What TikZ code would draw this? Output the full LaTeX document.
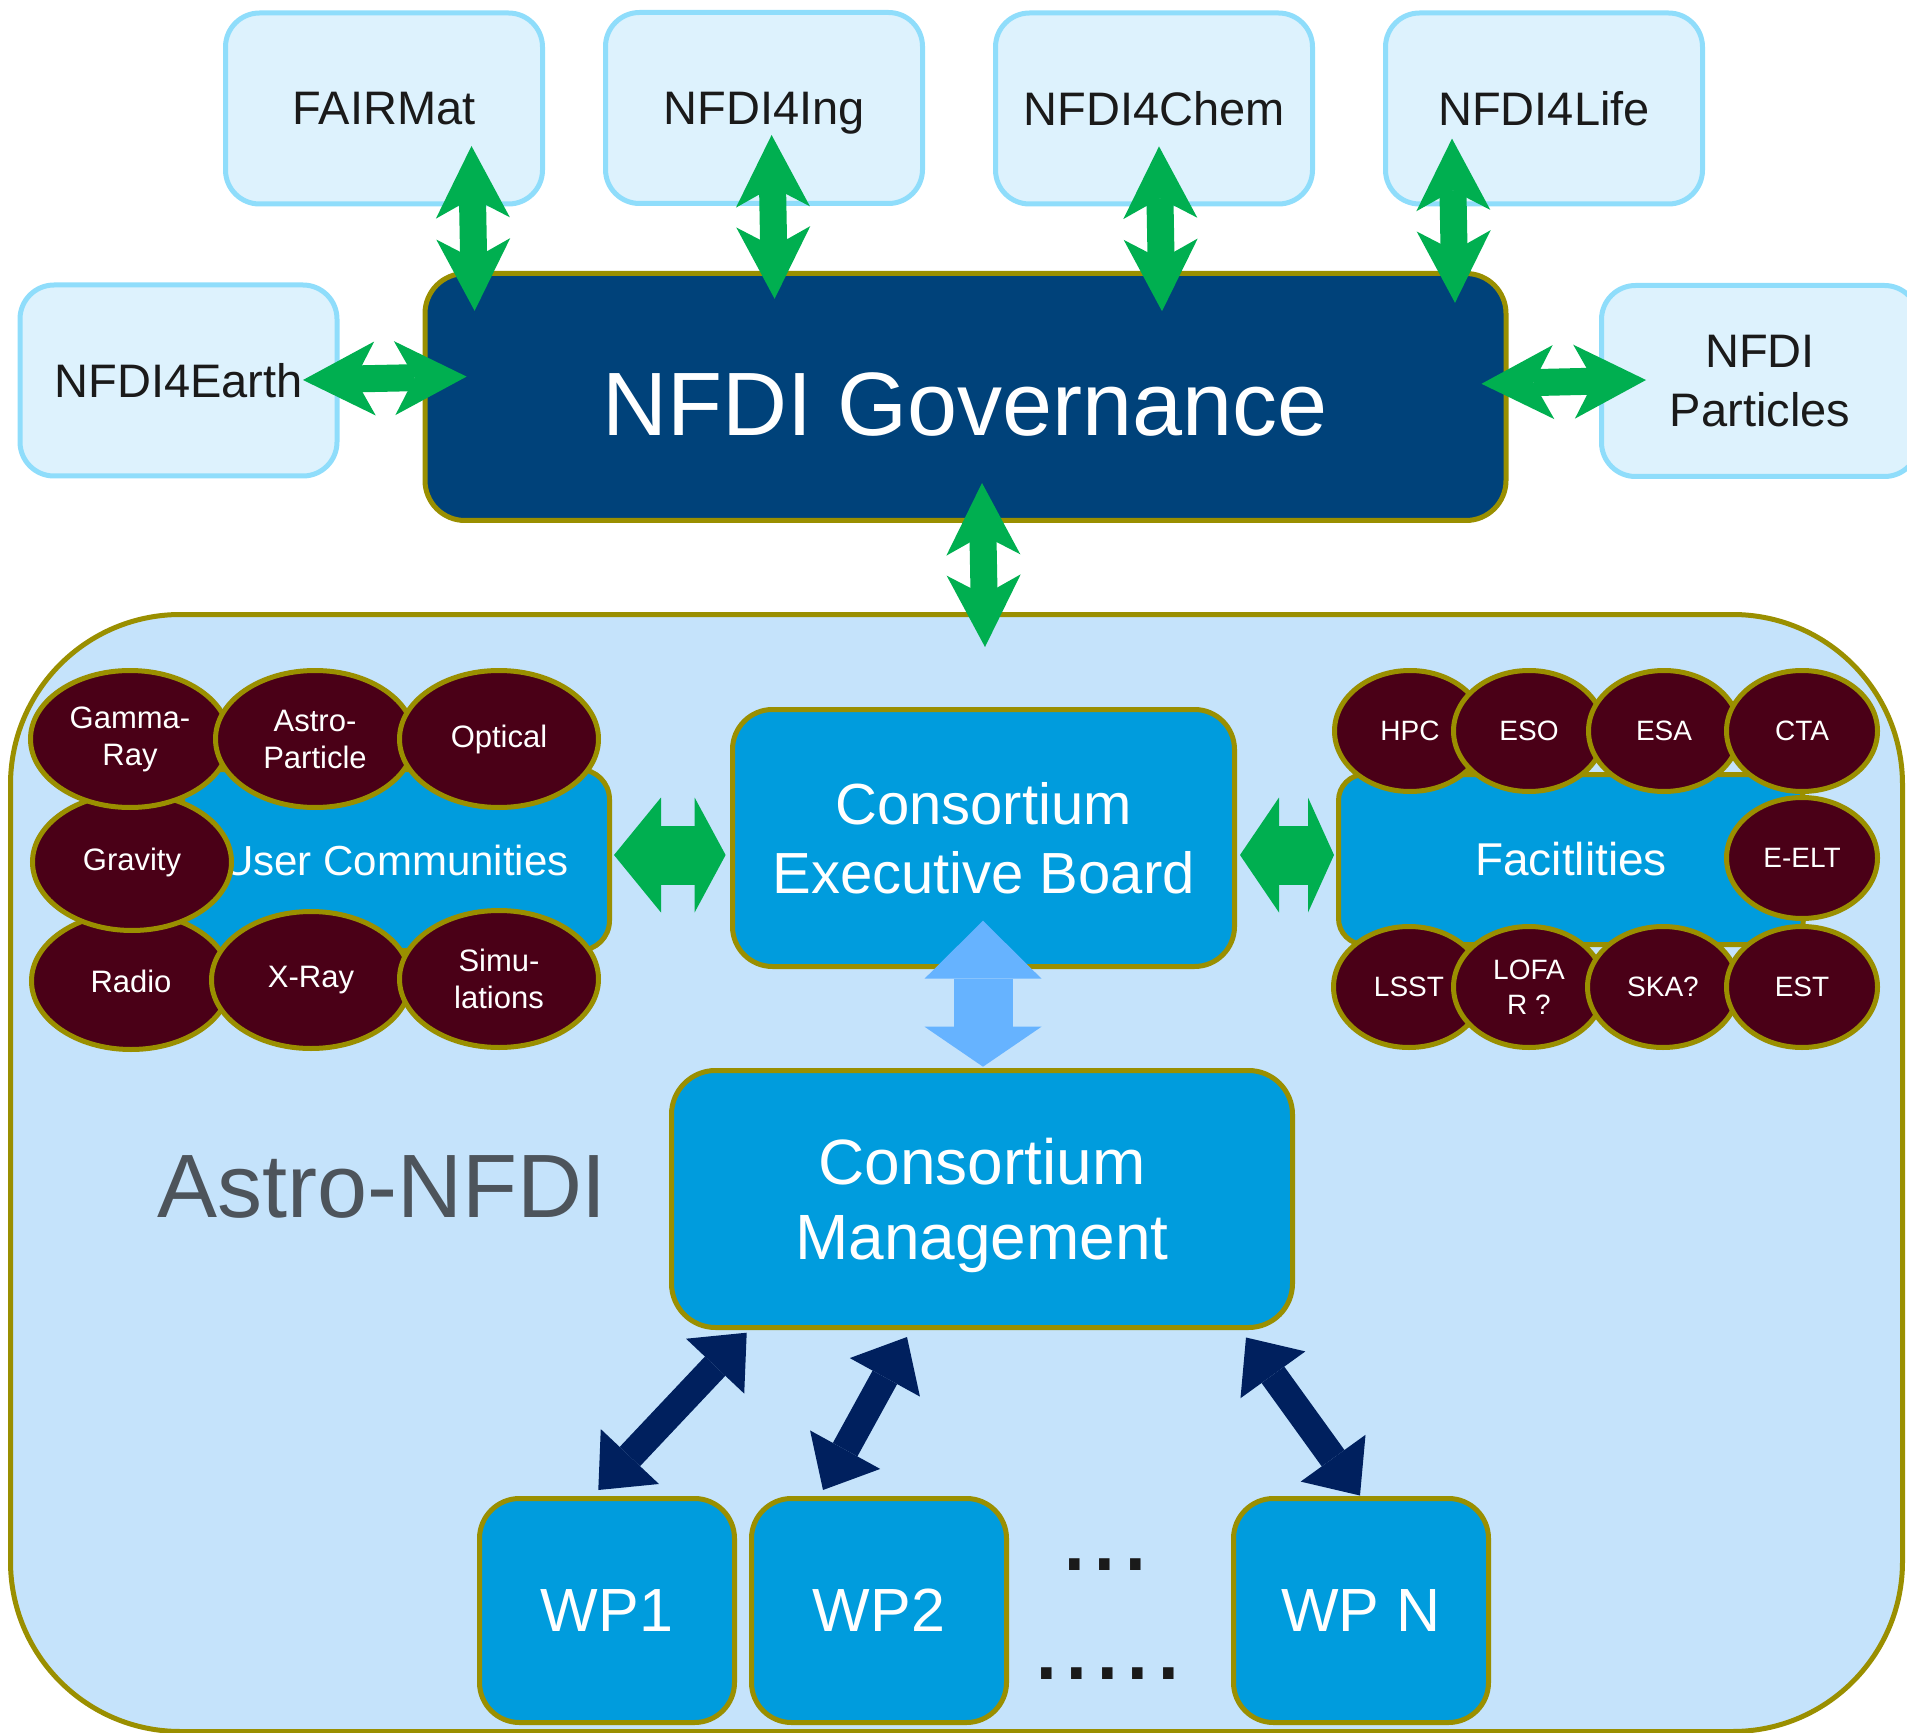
\documentclass[tikz,border=0pt]{standalone}
\usepackage{fontspec}
\setmainfont{Liberation Sans}
\usetikzlibrary{arrows.meta,shapes.geometric,calc}

\definecolor{topfill}{HTML}{DDF2FD}
\definecolor{topline}{HTML}{8FDDFB}
\definecolor{govfill}{HTML}{00427A}
\definecolor{olive}{HTML}{9A8F00}
\definecolor{boxfill}{HTML}{009CDD}
\definecolor{contfill}{HTML}{C5E3FB}
\definecolor{ellfill}{HTML}{4A0017}
\definecolor{arrowgreen}{HTML}{00AF50}
\definecolor{arrowlight}{HTML}{66B3FF}
\definecolor{arrownavy}{HTML}{00205E}
\definecolor{txtdark}{HTML}{1A1A1A}
\definecolor{labelgray}{HTML}{4D545B}

\begin{document}
\begin{tikzpicture}[x=0.5pt,y=-0.5pt,
  topbox/.style={draw=topline, fill=topfill, line width=2.5pt, rounded corners=17pt,
    minimum width=158.5pt, minimum height=95.5pt, text=txtdark, align=center,
    inner sep=0pt, font=\fontsize{23.5pt}{29.5pt}\selectfont},
  bluebox/.style={draw=olive, fill=boxfill, line width=2.5pt, text=white,
    align=center, inner sep=0pt},
  orb/.style={ellipse, draw=olive, fill=ellfill, line width=2.5pt, text=white,
    align=center, inner sep=0pt, minimum width=99.5pt, minimum height=68.5pt,
    font=\fontsize{15.5pt}{18.5pt}\selectfont},
  orbsmall/.style={orb, minimum width=75.5pt, minimum height=60.5pt,
    font=\fontsize{14pt}{17.5pt}\selectfont},
  flexgreen/.style={draw=arrowgreen, line width=13.5pt,
    arrows={Stealth[length=36pt,width=37pt,inset=10pt,line width=0pt]-Stealth[length=36pt,width=37pt,inset=10pt,line width=0pt]}},
  fatgreen/.style={draw=arrowgreen, line width=29.5pt},
  navylink/.style={draw=arrownavy, line width=14pt,
    arrows={Triangle[length=23pt,width=40pt,line width=0pt]-Triangle[length=23pt,width=40pt,line width=0pt]}}
]
\useasboundingbox (0,0) rectangle (1907,1733);

% consortium frame
\node[draw=olive, fill=contfill, line width=2.5pt, rounded corners=85pt,
  minimum width=946pt, minimum height=558.5pt, inner sep=0pt] (astro) at (956.5,1173) {};

% partner consortia
\node[topbox] (fair)  at (384,108.5)  {FAIRMat};
\node[topbox, text depth=0pt] (ing) at (764,108) {NFDI4Ing};
\node[topbox] (chem)  at (1154,108.5) {NFDI4Chem};
\node[topbox] (life)  at (1544,108.5) {NFDI4Life};
\node[topbox] (earth) at (178.5,380.5) {NFDI4Earth};
\node[topbox] (part)  at (1760,381)   {NFDI\\Particles};

% governance
\node[bluebox, fill=govfill, rounded corners=20pt, minimum width=540.5pt,
  minimum height=123.5pt, text height=39pt, text depth=0pt,
  font=\fontsize{45pt}{54pt}\selectfont] (gov) at (965.5,397) {NFDI Governance};

% links to governance
\draw[flexgreen] ($(fair.center)+(87.5,37.5)$) -- ($(gov.center)+(-490.9,-86.2)$);
\draw[flexgreen] ($(ing.center)+(7.6,27)$) -- ($(gov.center)+(-190.9,-98.2)$);
\draw[flexgreen] ($(chem.center)+(5,37.9)$) -- ($(gov.center)+(196.5,-85.8)$);
\draw[flexgreen] ($(life.center)+(-92,30.1)$) -- ($(gov.center)+(489.5,-94.2)$);
\draw[flexgreen] ($(earth.center)+(124.5,-0.5)$) -- ($(gov.center)+(-498.9,-20.4)$);
\draw[flexgreen] ($(gov.center)+(516,-13.2)$) -- ($(part.center)+(-114,-1)$);
\draw[flexgreen] ($(gov.center)+(16.5,86)$) -- ($(astro.center)+(28.5,-526)$);

% inner boxes
\node[bluebox, rounded corners=15pt, minimum width=213.5pt, minimum height=90.5pt,
  font=\fontsize{21pt}{25pt}\selectfont] (uc) at (396,860) {User Communities};
\node[bluebox, rounded corners=13pt, minimum width=232.5pt, minimum height=85pt,
  font=\fontsize{23pt}{27pt}\selectfont] (fac) at (1571,859.5) {Facitlities};
\node[bluebox, rounded corners=20pt, minimum width=251pt, minimum height=128.5pt,
  font=\fontsize{29pt}{34.5pt}\selectfont] (exec) at (983.5,838) {Consortium\\Executive Board};
\node[bluebox, rounded corners=22pt, minimum width=310.5pt, minimum height=128.5pt,
  text depth=0pt, font=\fontsize{32pt}{37.5pt}\selectfont] (mgmt) at (982,1199) {Consortium\\Management};
\node[bluebox, rounded corners=20pt, minimum width=127.5pt, minimum height=112pt,
  font=\fontsize{30.5pt}{36pt}\selectfont] (wp1) at (607,1610.5) {WP1};
\node[bluebox, rounded corners=20pt, minimum width=127.5pt, minimum height=112pt,
  font=\fontsize{30.5pt}{36pt}\selectfont] (wp2) at (879,1610.5) {WP2};
\node[bluebox, rounded corners=20pt, minimum width=127.5pt, minimum height=112pt,
  font=\fontsize{30.5pt}{36pt}\selectfont] (wpn) at (1361,1610.5) {WP N};

% user communities
\node[orb] (radio)   at (131,981)  {Radio};
\node[orb] (xray)    at (311,980)  {X-Ray};
\node[orb] (simu)    at (499,979)  {Simu-\\lations};
\node[orb] (gravity) at (132,862)  {Gravity};
\node[orb] (gamma)   at (130,739)  {Gamma-\\Ray};
\node[orb] (astrop)  at (315,739)  {Astro-\\Particle};
\node[orb] (optical) at (499,739)  {Optical};

% facilities
\node[orbsmall] (hpc)   at (1410,731) {HPC};
\node[orbsmall] (eso)   at (1529,731) {ESO};
\node[orbsmall] (esa)   at (1664,731) {ESA};
\node[orbsmall] (cta)   at (1802,731) {CTA};
\node[orbsmall] (eelt)  at (1802,858) {E-ELT};
\node[orbsmall] (lsst)  at (1409,987) {LSST};
\node[orbsmall] (lofar) at (1529,987) {LOFA\\R ?};
\node[orbsmall] (ska)   at (1663,987) {SKA?};
\node[orbsmall] (est)   at (1802,987) {EST};

% board links
\draw[fatgreen, arrows={Triangle[length=23.5pt,width=57.5pt,line width=0pt]-Triangle[length=15.5pt,width=57.5pt,line width=0pt]}]
  ($(uc.center)+(218,-5)$) -- ($(exec.center)+(-257.9,17)$);
\draw[fatgreen, arrows={Triangle[length=19.5pt,width=57.5pt,line width=0pt]-Triangle[length=13pt,width=57.5pt,line width=0pt]}]
  ($(exec.center)+(256.5,17)$) -- ($(fac.center)+(-237,-4.5)$);
\draw[draw=arrowlight, line width=29.5pt, arrows={Triangle[length=29pt,width=58.5pt,line width=0pt]-Triangle[length=20pt,width=58.5pt,line width=0pt]}]
  ($(exec.center)+(-0.5,82.7)$) -- ($(mgmt.center)+(1,-132.3)$);

% work package links
\draw[navylink] ($(mgmt.center)+(-235.3,133.7)$) -- ($(wp1.center)+(-8.7,-120.5)$);
\draw[navylink] ($(mgmt.center)+(-75,138)$) -- ($(wp2.center)+(-56,-120.5)$);
\draw[navylink] ($(mgmt.center)+(264,138.5)$) -- ($(wpn.center)+(-1,-115)$);

% labels
\node[text=labelgray, inner sep=0pt, font=\fontsize{45pt}{54pt}\selectfont] (astrolabel) at (382,1187) {Astro-NFDI};
\node[text=txtdark, inner sep=0pt, font=\fontsize{55pt}{60pt}\selectfont] (dotsA) at (1105,1565) {...};
\node[text=txtdark, inner sep=0pt, font=\fontsize{55pt}{60pt}\selectfont] (dotsB) at (1107.5,1674) {.....};
\end{tikzpicture}
\end{document}
